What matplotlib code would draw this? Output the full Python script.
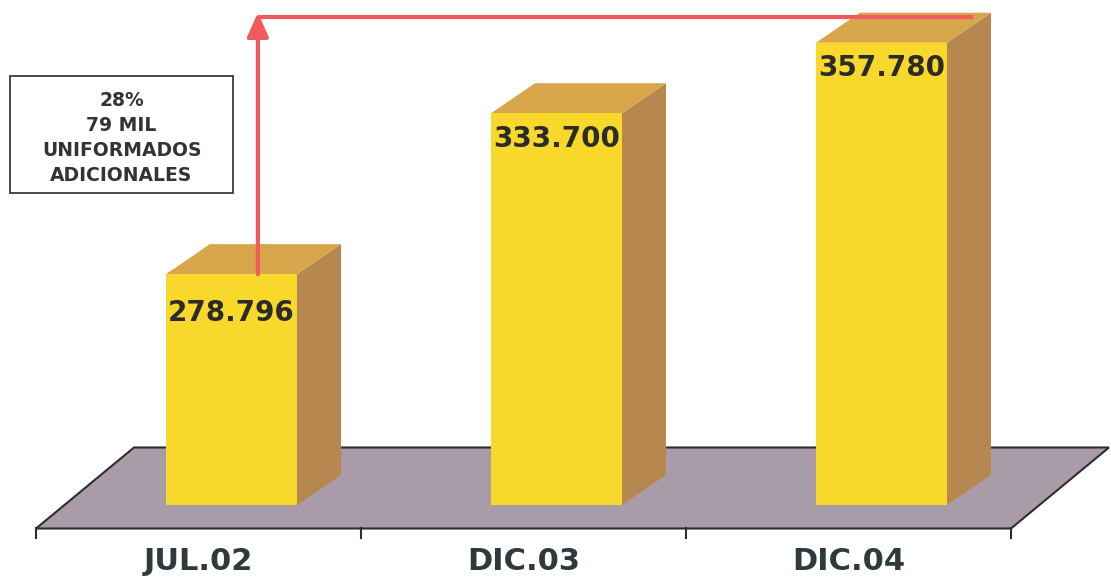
import matplotlib
matplotlib.use("Agg")
import matplotlib.pyplot as plt
from matplotlib.patches import Polygon, Rectangle
import numpy as np

# data
categories = ["JUL.02", "DIC.03", "DIC.04"]
uniformados = [278796, 333700, 357780]
box_lines = ["28%", "79 MIL", "UNIFORMADOS", "ADICIONALES"]

BASE = 200000          # value axis starts here, not at zero
PX_CAT = 325.0         # pixels per category
PX_VAL = 2.93 / 1000   # pixels per uniformado

YELLOW = "#f8d82a"
TOP = "#d8a64a"
SIDE = "#b68850"
FLOOR = "#a99ba7"
EDGE = "#2e2e2e"
RED = "#f05a5a"
TXT = "#2b2b2b"
CAT_TXT = "#2e3a3d"

# vertical drop of each value label below the bar top (px)
label_drop = [39, 26, 25]


def dx(px):
    return px / PX_CAT


def dy(px):
    return px / PX_VAL


fig = plt.figure(figsize=(11.11, 5.78), dpi=100)
ax = fig.add_axes([0, 0, 1, 1])
ax.set_xlim(-198.5 / PX_CAT, (1111 - 198.5) / PX_CAT)
ax.set_ylim(BASE - dy(73), BASE + dy(505))
ax.axis("off")

x = np.arange(len(categories))
vals = np.array(uniformados, dtype=float)

# floor of the 3d chart
fl, fr = x[0] - 0.5, x[-1] + 0.5
f_front, f_back, f_dx = BASE - dy(23.5), BASE + dy(57.5), dx(98)
ax.add_patch(Polygon([(fl, f_front), (fr, f_front), (fr + f_dx, f_back), (fl + f_dx, f_back)],
                     closed=True, fc=FLOOR, ec=EDGE, lw=1.5, zorder=1))
for t in np.linspace(fl, fr, len(categories) + 1):
    ax.plot([t, t], [f_front, f_front - dy(10)], color=EDGE, lw=1.5, zorder=1)

# bars: front faces via ax.bar, sides and tops as polygons
bw = dx(131)
off = dx(33)
DX, DY = dx(44), dy(30)
bars = ax.bar(x + off, vals - BASE, width=bw, bottom=BASE, color=YELLOW, zorder=4)
for b, v in zip(bars, vals):
    xl = b.get_x()
    xr = xl + b.get_width()
    side = [(xr, BASE), (xr + DX, BASE + DY), (xr + DX, v + DY), (xr, v)]
    top = [(xl, v), (xl + DX, v + DY), (xr + DX, v + DY), (xr, v)]
    ax.add_patch(Polygon(side, closed=True, fc=SIDE, ec="none", zorder=3))
    ax.add_patch(Polygon(top, closed=True, fc=TOP, ec="none", zorder=3))

# value labels inside the bars
for b, v, drop in zip(bars, vals, label_drop):
    lab = f"{int(v):,}".replace(",", ".")
    ax.text(b.get_x() + b.get_width() / 2, v - dy(drop), lab, ha="center", va="center",
            fontsize=20, fontweight="bold", color=TXT, zorder=6)

# category labels under the floor
for xi, c in zip(x, categories):
    ax.text(xi, BASE - dy(57), c, ha="center", va="center",
            fontsize=22, fontweight="bold", color=CAT_TXT)

# red growth arrow from first bar to last bar
b0, b2 = bars[0], bars[-1]
arr_x = b0.get_x() + b0.get_width() / 2 + 0.6 * DX
top_y = vals[-1] + 0.86 * DY
end_x = b2.get_x() + b2.get_width() + 0.6 * DX
ax.plot([arr_x, end_x], [top_y, top_y], color=RED, lw=3, solid_capstyle="butt", zorder=7)
ax.annotate("", xy=(arr_x, vals[-1] + DY), xytext=(arr_x, vals[0]),
            arrowprops=dict(arrowstyle="-|>,head_length=1.45,head_width=0.65",
                            color=RED, lw=3, shrinkA=0, shrinkB=0, mutation_scale=10),
            zorder=7)

# annotation box
ax.add_patch(Rectangle((10 / 1111, 1 - 193 / 578), 223 / 1111, 117 / 578,
                       transform=ax.transAxes, fill=False, ec="#3a3a3a", lw=1.3))
ax.text(121.5 / 1111, 1 - 138 / 578, "\n".join(box_lines), transform=ax.transAxes,
        ha="center", va="center", fontsize=13.5, fontweight="bold", color="#333333",
        linespacing=1.4)

fig.savefig("out.png", dpi=100, facecolor="white")
